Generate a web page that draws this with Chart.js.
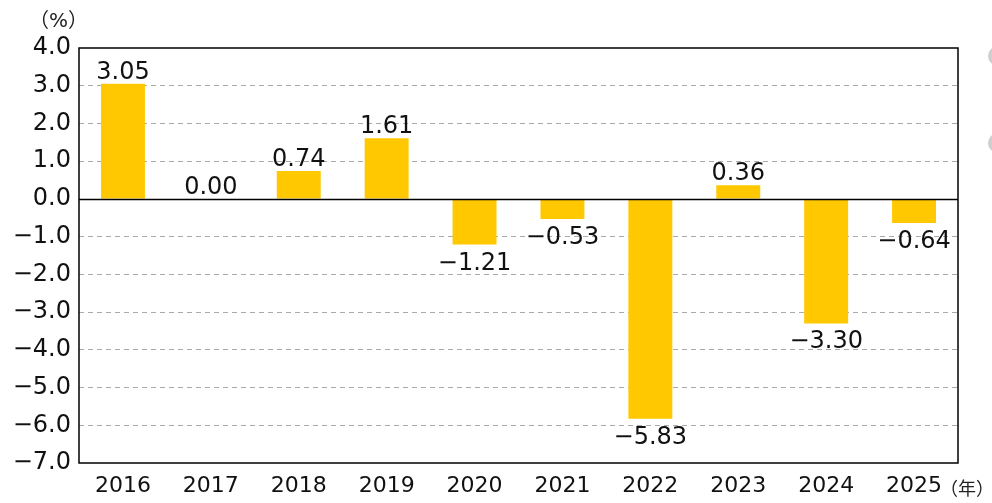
<!DOCTYPE html>
<html>
<head>
<meta charset="utf-8">
<script src="https://cdn.jsdelivr.net/npm/chart.js@4"></script>
<style>
  html, body { margin: 0; padding: 0; background: #fff; }
  #wrap { position: relative; width: 992px; height: 503px; overflow: hidden; }
  .unit { position: absolute; font-family: "DejaVu Sans", "Noto Sans CJK JP", sans-serif; font-size: 18px; color: #222; line-height: 1; }
  .dot { position: absolute; width: 20px; height: 20px; border-radius: 50%; background: #cfcfcf; }
</style>
</head>
<body>
<div id="wrap">
  <canvas id="chart" width="992" height="503"></canvas>
  <div class="unit" style="left:29px; top:10px; font-size:20px;">（%）</div>
  <div class="unit" style="left:940px; top:480px;">（年）</div>
  <div class="dot" style="left:988px; top:46px;"></div>
  <div class="dot" style="left:988px; top:133px;"></div>
</div>
<script>
// year-on-year change, %
const years = ["2016","2017","2018","2019","2020","2021","2022","2023","2024","2025"];
const values = [3.05, 0.00, 0.74, 1.61, -1.21, -0.53, -5.83, 0.36, -3.30, -0.64];
const yTicks = [4, 3, 2, 1, 0, -1, -2, -3, -4, -5, -6, -7];

const FONT = '"DejaVu Sans", sans-serif';
const fmt = (v, d) => (v < 0 ? "\u2212" : "") + Math.abs(v).toFixed(d);

// frame, zero line and value labels
const decor = {
  id: "decor",
  afterDraw(chart) {
    const { ctx, chartArea: a, scales: { y } } = chart;
    ctx.save();
    ctx.strokeStyle = "#000";
    ctx.lineWidth = 1.5;
    ctx.setLineDash([]);
    ctx.strokeRect(a.left, a.top, a.right - a.left, a.bottom - a.top);
    const y0 = Math.round(y.getPixelForValue(0)) + 0.5;
    ctx.beginPath();
    ctx.moveTo(a.left, y0);
    ctx.lineTo(a.right, y0);
    ctx.stroke();

    ctx.fillStyle = "#111";
    ctx.font = "24px " + FONT;
    ctx.textAlign = "center";
    ctx.textBaseline = "alphabetic";
    chart.getDatasetMeta(0).data.forEach((bar, i) => {
      const v = values[i];
      if (v >= 0) ctx.fillText(fmt(v, 2), bar.x, bar.y - 5);
      else ctx.fillText(fmt(v, 2), bar.x, bar.y + 25);
    });
    ctx.restore();
  }
};

new Chart(document.getElementById("chart"), {
  type: "bar",
  data: {
    labels: years,
    datasets: [{
      data: values,
      backgroundColor: "#ffc800",
      borderWidth: 0,
      barPercentage: 0.5,
      categoryPercentage: 1.0
    }]
  },
  options: {
    responsive: false,
    animation: false,
    layout: { padding: { top: 48, right: 34, left: 0, bottom: 0 } },
    plugins: { legend: { display: false }, tooltip: { enabled: false } },
    scales: {
      x: {
        grid: { display: false, drawTicks: false },
        border: { display: false },
        ticks: { color: "#111", font: { size: 22, family: FONT }, padding: 10 },
        afterFit(s) { s.height = 40; }
      },
      y: {
        min: -7,
        max: 4,
        afterBuildTicks(s) { s.ticks = yTicks.map(v => ({ value: v })); },
        grid: {
          drawTicks: false,
          color: c => (c.tick && (c.tick.value === 0 || c.tick.value === 4 || c.tick.value === -7)) ? "rgba(0,0,0,0)" : "#aaa",
          lineWidth: 1
        },
        border: { display: false, dash: [5, 4] },
        ticks: {
          color: "#111",
          font: { size: 24, family: FONT },
          padding: 8,
          callback: v => fmt(v, 1)
        },
        afterFit(s) { s.width = 79; }
      }
    }
  },
  plugins: [decor]
});
</script>
</body>
</html>
